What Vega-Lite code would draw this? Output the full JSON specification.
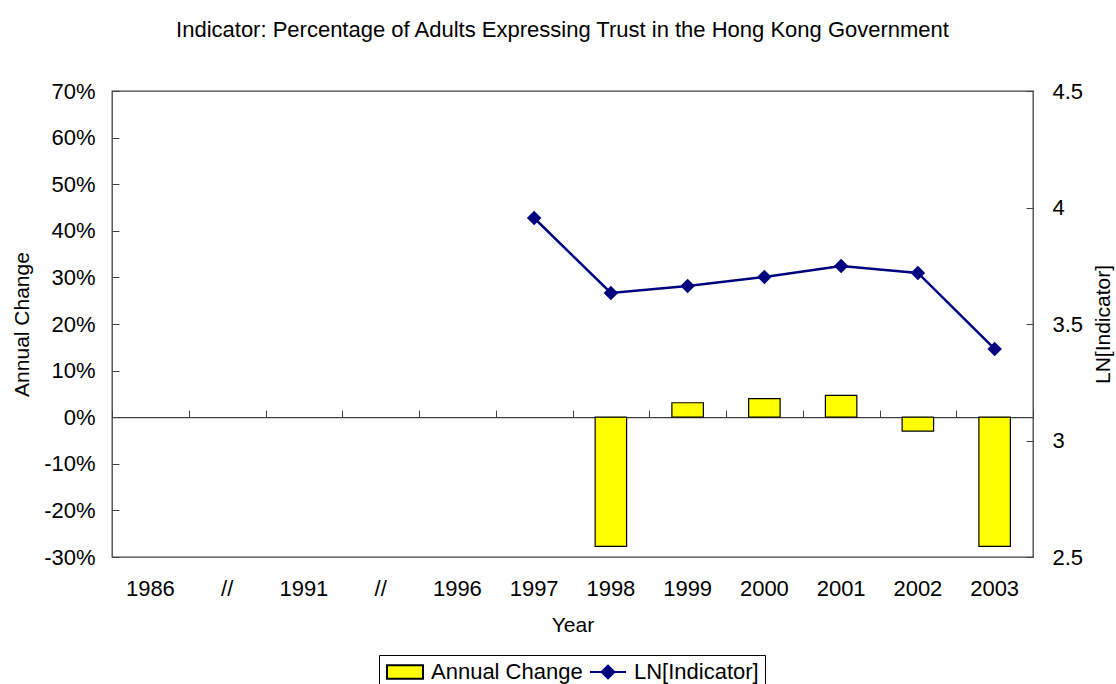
{
  "$schema": "https://vega.github.io/schema/vega-lite/v6.json",
  "width": 921,
  "height": 466,
  "autosize": {"type": "none"},
  "padding": {"left": 112, "top": 91, "right": 83, "bottom": 127},
  "title": {
    "text": "Indicator: Percentage of Adults Expressing Trust in the Hong Kong Government",
    "font": "Liberation Sans",
    "fontSize": 22,
    "fontWeight": "normal",
    "color": "#000",
    "anchor": "middle",
    "offset": 38,
    "dx": -10
  },
  "config": {
    "view": {"stroke": "#404040", "strokeWidth": 1.3},
    "font": "Liberation Sans",
    "axis": {
      "labelFont": "Liberation Sans",
      "titleFont": "Liberation Sans",
      "labelFontSize": 22,
      "titleFontSize": 21,
      "titleFontWeight": "normal",
      "labelColor": "#000",
      "titleColor": "#000",
      "grid": false,
      "tickColor": "#404040",
      "domainColor": "#404040"
    },
    "legend": {
      "orient": "none",
      "legendX": 267,
      "legendY": 564,
      "direction": "horizontal",
      "strokeColor": "#000",
      "padding": 6,
      "labelFontSize": 22,
      "labelFont": "Liberation Sans",
      "labelColor": "#000",
      "symbolSize": 256,
      "symbolOffset": 9,
      "symbolStrokeWidth": 2,
      "symbolOpacity": 1,
      "labelOffset": 15,
      "columnPadding": 3
    }
  },
  "data": {
    "values": [
      {"key": "1986", "change": null, "ln": null},
      {"key": "gap1", "change": null, "ln": null},
      {"key": "1991", "change": null, "ln": null},
      {"key": "gap2", "change": null, "ln": null},
      {"key": "1996", "change": null, "ln": null},
      {"key": "1997", "change": null, "ln": 3.955},
      {"key": "1998", "change": -0.277, "ln": 3.633},
      {"key": "1999", "change": 0.031, "ln": 3.663},
      {"key": "2000", "change": 0.040, "ln": 3.702},
      {"key": "2001", "change": 0.047, "ln": 3.749},
      {"key": "2002", "change": -0.030, "ln": 3.719},
      {"key": "2003", "change": -0.277, "ln": 3.393}
    ]
  },
  "layer": [
    {
      "mark": {"type": "bar", "stroke": "#000", "strokeWidth": 1.2, "width": {"band": 0.41}},
      "encoding": {
        "x": {
          "field": "key",
          "type": "nominal",
          "sort": null,
          "scale": {
            "domain": ["1986", "gap1", "1991", "gap2", "1996", "1997", "1998", "1999", "2000", "2001", "2002", "2003"],
            "paddingInner": 0,
            "paddingOuter": 0
          },
          "axis": {
            "orient": "bottom",
            "title": "Year",
            "labelAngle": 0,
            "labelExpr": "indexof(datum.value, 'gap') == 0 ? '//' : datum.value",
            "ticks": false,
            "domain": false,
            "labelPadding": 21,
            "titlePadding": 15
          }
        },
        "y": {
          "field": "change",
          "type": "quantitative",
          "scale": {"domain": [-0.3, 0.7], "nice": false, "zero": false},
          "axis": {
            "orient": "left",
            "title": "Annual Change",
            "format": ".0%",
            "labelExpr": "replace(datum.label, '\u2212', '-')",
            "values": [-0.3, -0.2, -0.1, 0, 0.1, 0.2, 0.3, 0.4, 0.5, 0.6, 0.7],
            "tickSize": -7,
            "labelPadding": 24,
            "domain": false,
            "titlePadding": 11
          }
        },
        "color": {
          "datum": "Annual Change",
          "scale": {"domain": ["Annual Change", "LN[Indicator]"], "range": ["#ffff00", "#000080"]},
          "legend": {"title": null}
        }
      }
    },
    {
      "transform": [{"filter": "datum.ln != null"}],
      "mark": {
        "type": "line",
        "color": "#000080",
        "strokeWidth": 2.5,
        "point": {"shape": "diamond", "filled": true, "size": 210, "color": "#000080", "opacity": 1}
      },
      "encoding": {
        "x": {
          "field": "key",
          "type": "nominal",
          "sort": null,
          "axis": {
            "orient": "top",
            "offset": -326.2,
            "labels": false,
            "title": null,
            "ticks": true,
            "tickBand": "extent",
            "tickSize": 7,
            "domain": true,
            "domainWidth": 1.3
          }
        },
        "y": {
          "field": "ln",
          "type": "quantitative",
          "scale": {"domain": [2.5, 4.5], "nice": false, "zero": false},
          "axis": {
            "orient": "right",
            "title": "LN[Indicator]",
            "titleAngle": -90,
            "format": "~f",
            "values": [2.5, 3, 3.5, 4, 4.5],
            "tickSize": -7,
            "labelPadding": 26,
            "domain": false,
            "titlePadding": 31
          }
        }
      }
    },
    {
      "description": "Legend-only layer: carries the legend glyph shapes and outline colours, draws no marks.",
      "transform": [{"filter": "false"}],
      "mark": {"type": "point", "filled": true, "opacity": 1},
      "encoding": {
        "color": {"datum": "Annual Change", "legend": {"title": null}},
        "shape": {
          "datum": "Annual Change",
          "scale": {
            "domain": ["Annual Change", "LN[Indicator]"],
            "range": ["M-2.25,-0.84H2.25V0.84H-2.25Z", "M-2.25,0H2.25M-0.8,0L0,-0.8L0.8,0L0,0.8Z"]
          },
          "legend": {"title": null}
        },
        "stroke": {
          "datum": "Annual Change",
          "scale": {"domain": ["Annual Change", "LN[Indicator]"], "range": ["#000000", "#000080"]},
          "legend": {"title": null}
        }
      }
    }
  ],
  "resolve": {"scale": {"y": "independent"}, "axis": {"x": "independent"}}
}
